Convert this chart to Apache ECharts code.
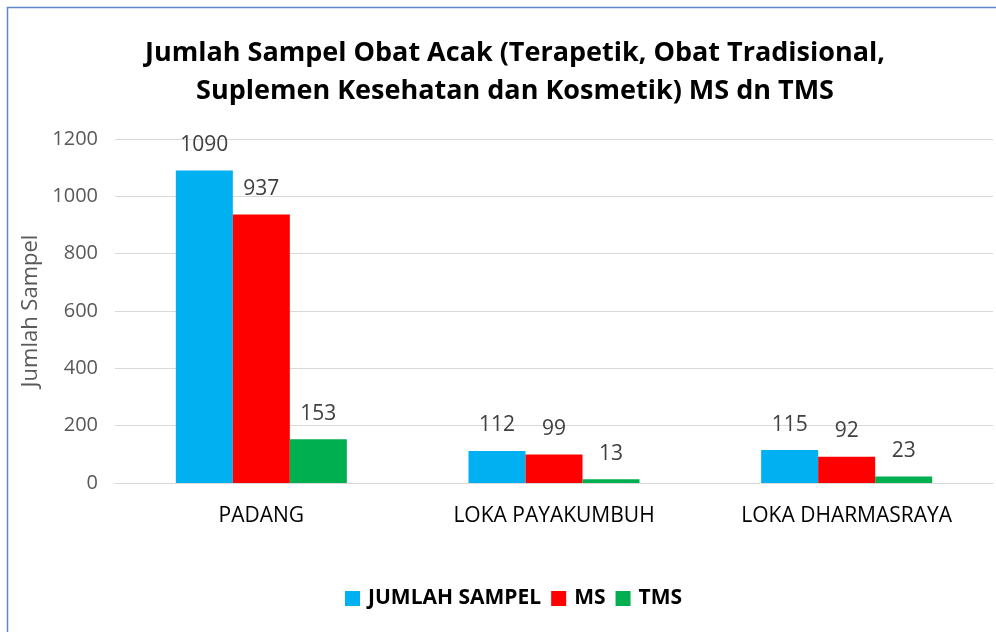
<!DOCTYPE html>
<html>
<head>
<meta charset="utf-8">
<script src="https://cdn.jsdelivr.net/npm/echarts@6/dist/echarts.min.js"></script>
<style>
  html, body { margin: 0; padding: 0; background: #fff; }
  #chart { width: 996px; height: 632px; }
</style>
</head>
<body>
<div id="chart"></div>
<script>
var categories = ['PADANG', 'LOKA PAYAKUMBUH', 'LOKA DHARMASRAYA'];
var jumlahSampel = [1090, 112, 115];
var msData = [937, 99, 92];
var tmsData = [153, 13, 23];
var yTicks = [0, 200, 400, 600, 800, 1000, 1200];

var chart = echarts.init(document.getElementById('chart'));
var font = '"Open Sans", "Liberation Sans", sans-serif';

var labelStyle = {   // 柱顶数值
  show: true,
  position: 'top',
  distance: 15,
  color: '#404040',
  fontSize: 21,
  fontFamily: font
};

var option = {
  animation: false,
  textStyle: { fontFamily: font },
  graphic: [
    {   // 外框
      type: 'rect',
      shape: { x: 7.5, y: 7.5, width: 1000, height: 640 },
      style: { fill: 'none', stroke: '#5b8ac6', lineWidth: 1.5 }
    }
  ],
  title: {
    text: 'Jumlah Sampel Obat Acak (Terapetik, Obat Tradisional,\nSuplemen Kesehatan dan Kosmetik) MS dn TMS',
    left: 510,
    top: 29,
    textAlign: 'center',
    textStyle: {
      fontSize: 27,
      fontWeight: 'bold',
      color: '#000',
      lineHeight: 38,
      fontFamily: font
    }
  },
  legend: {
    bottom: 18,
    left: 340,
    itemWidth: 15,
    itemHeight: 15,
    itemGap: 10,
    icon: 'rect',
    textStyle: { fontSize: 21, fontWeight: 'bold', color: '#000', fontFamily: font, padding: [0, 0, 0, 3] }
  },
  grid: {
    left: 115,
    right: 3,
    top: 139,
    bottom: 149
  },
  xAxis: {
    type: 'category',
    data: categories,
    axisTick: { show: false },
    axisLine: { lineStyle: { color: '#d9d9d9', width: 1 } },
    axisLabel: { color: '#000', fontSize: 21, margin: 23, fontFamily: font }
  },
  yAxis: {
    type: 'value',
    min: yTicks[0],
    max: yTicks[yTicks.length - 1],
    interval: 200,
    name: 'Jumlah Sampel',
    nameLocation: 'middle',
    nameGap: 70,
    nameTextStyle: { color: '#595959', fontSize: 22, fontFamily: font },
    axisLine: { show: false },
    axisTick: { show: false },
    splitLine: { lineStyle: { color: '#d9d9d9', width: 1 } },
    axisLabel: {
      color: '#595959',
      fontSize: 20,
      margin: 17,
      fontFamily: font,
      formatter: function (v) { return String(v); }
    }
  },
  series: [
    {
      name: 'JUMLAH SAMPEL',
      type: 'bar',
      data: jumlahSampel,
      barWidth: 57,
      barGap: '0%',
      itemStyle: { color: '#00b0f0' },
      label: labelStyle
    },
    {
      name: 'MS',
      type: 'bar',
      data: msData,
      barWidth: 57,
      barGap: '0%',
      itemStyle: { color: '#ff0000' },
      label: labelStyle
    },
    {
      name: 'TMS',
      type: 'bar',
      data: tmsData,
      barWidth: 57,
      barGap: '0%',
      itemStyle: { color: '#00b050' },
      label: labelStyle
    }
  ]
};

chart.setOption(option);
</script>
</body>
</html>
